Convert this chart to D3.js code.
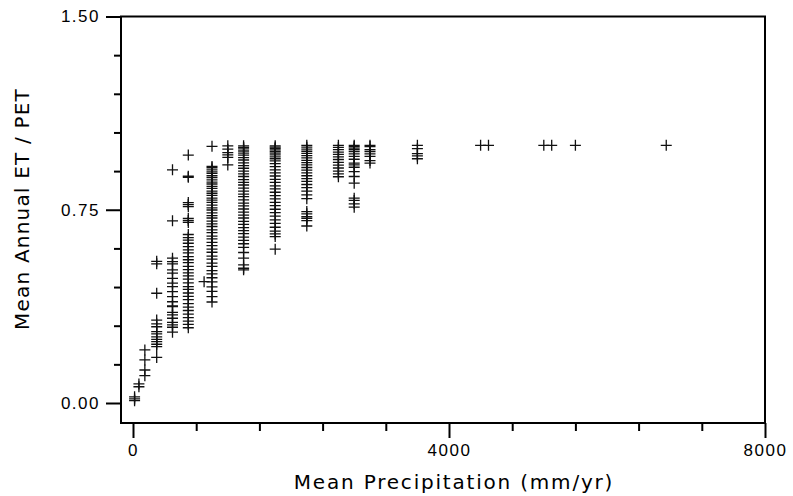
<!DOCTYPE html>
<html>
<head>
<meta charset="utf-8">
<script src="https://cdn.jsdelivr.net/npm/d3@7"></script>
<style>
  html, body { margin: 0; padding: 0; background: #fff; }
  svg { display: block; font-family: "DejaVu Sans", sans-serif; }
</style>
</head>
<body>
<div class="chart-area"></div>
<script>
// ET/PET vs mean precipitation - scatter of "+" marks

// ---- Data ----
// precipitation class (mm/yr) of each column of marks
const precipitation = [20, 75, 150, 300, 500, 700, 900, 1000, 1200, 1400, 1800,
                       2200, 2600, 2800, 3000, 3600, 4400, 4500, 5200, 5300, 5600, 6750];

// ET/PET values (same order as precipitation)
const etPetRatios = [
  [0.024, 0.016, 0.009],
  [0.074, 0.063],
  [0.206, 0.167, 0.128, 0.106],
  [0.550, 0.540, 0.426, 0.322, 0.307, 0.296, 0.277, 0.268, 0.257, 0.247, 0.238, 0.228, 0.219, 0.177],
  [0.905, 0.707, 0.562, 0.549, 0.540, 0.517, 0.504, 0.484, 0.465, 0.452, 0.432, 0.413, 0.393,
   0.377, 0.374, 0.352, 0.342, 0.329, 0.313, 0.303, 0.294, 0.275],
  [0.962, 0.880, 0.876, 0.778, 0.770, 0.762, 0.716, 0.708, 0.701, 0.654, 0.642, 0.632, 0.620,
   0.607, 0.594, 0.583, 0.568, 0.556, 0.545, 0.530, 0.518, 0.505, 0.493, 0.481, 0.466, 0.452,
   0.441, 0.427, 0.414, 0.401, 0.386, 0.372, 0.359, 0.345, 0.331, 0.318, 0.305, 0.292],
  [0.471],
  [0.996, 0.918, 0.913, 0.905, 0.897, 0.891, 0.882, 0.875, 0.866, 0.857, 0.850, 0.841, 0.833,
   0.822, 0.814, 0.806, 0.795, 0.787, 0.779, 0.768, 0.757, 0.749, 0.738, 0.727, 0.718, 0.706,
   0.695, 0.685, 0.672, 0.661, 0.648, 0.637, 0.623, 0.611, 0.597, 0.585, 0.570, 0.558, 0.543,
   0.530, 0.514, 0.501, 0.486, 0.470, 0.451, 0.433, 0.413, 0.392],
  [0.998, 0.985, 0.972, 0.963, 0.953, 0.924],
  [0.998, 0.992, 0.986, 0.978, 0.970, 0.962, 0.952, 0.943, 0.932, 0.921, 0.911, 0.900, 0.889,
   0.879, 0.867, 0.856, 0.846, 0.834, 0.822, 0.811, 0.801, 0.788, 0.776, 0.765, 0.753, 0.741,
   0.729, 0.718, 0.705, 0.693, 0.681, 0.669, 0.657, 0.644, 0.631, 0.618, 0.604, 0.584, 0.562,
   0.536, 0.523, 0.517],
  [0.998, 0.993, 0.988, 0.982, 0.976, 0.970, 0.963, 0.955, 0.948, 0.940, 0.929, 0.917, 0.905,
   0.893, 0.881, 0.868, 0.856, 0.843, 0.831, 0.818, 0.805, 0.792, 0.779, 0.766, 0.752, 0.739,
   0.725, 0.711, 0.697, 0.682, 0.667, 0.656, 0.646, 0.597],
  [1.000, 0.993, 0.985, 0.977, 0.969, 0.960, 0.951, 0.942, 0.933, 0.924, 0.914, 0.904, 0.893,
   0.882, 0.871, 0.860, 0.848, 0.836, 0.822, 0.808, 0.793, 0.743, 0.734, 0.723, 0.717, 0.708, 0.687],
  [1.000, 0.992, 0.983, 0.974, 0.965, 0.955, 0.945, 0.934, 0.923, 0.912, 0.900, 0.889, 0.878],
  [1.000, 0.995, 0.989, 0.983, 0.976, 0.967, 0.957, 0.946, 0.931, 0.924, 0.915, 0.898, 0.879,
   0.853, 0.795, 0.786, 0.773, 0.760],
  [1.000, 0.995, 0.983, 0.976, 0.967, 0.957, 0.941, 0.931],
  [1.000, 0.987, 0.968, 0.959, 0.948],
  [1.000],
  [1.000],
  [1.000],
  [1.000],
  [1.000],
  [1.000]
];

// tick values
const xMinorTicks = [800, 1600, 2400, 3200, 4800, 5600, 6400, 7200];
const xMajorTicks = [0, 4000, 8000];
const yMinorTicks = [0.15, 0.30, 0.45, 0.60, 0.90, 1.05, 1.20, 1.35];
const yMajorTicks = [0, 0.75, 1.50];

// ---- Sizes ----
const svgWidth = 793;
const svgHeight = 496;
const frame = { left: 121, right: 765, top: 16.5, bottom: 423 };

const svg = d3.select(".chart-area").append("svg")
    .attr("width", svgWidth)
    .attr("height", svgHeight);

// Scales (data origin is offset inside the frame)
const x = d3.scaleLinear().domain([0, 8000]).range([133, 765]);
const y = d3.scaleLinear().domain([0, 1.5]).range([403, 16.5]);

// Points
const points = precipitation.flatMap((p, i) => etPetRatios[i].map(v => ({ p: p, v: v })));

svg.append("g")
    .attr("class", "marks")
    .selectAll("path")
    .data(points)
    .join("path")
    .attr("transform", d => `translate(${x(d.p)},${y(d.v)})`)
    .attr("d", "M-5.5,0H5.5M0,-5.5V5.5")
    .attr("fill", "none")
    .attr("stroke", "#111")
    .attr("stroke-width", 1.3);

// Axes
function styleAxis(g) {
    g.select(".domain").remove();
    g.selectAll(".tick line").attr("stroke", "#000").attr("stroke-width", 2);
    g.selectAll(".tick text")
        .attr("fill", "#000")
        .style("font-size", "17px")
        .style("letter-spacing", "1.5px");
}

svg.append("g")
    .attr("transform", `translate(${frame.left},0)`)
    .call(d3.axisLeft(y).tickValues(yMinorTicks).tickSize(7).tickFormat(""))
    .call(styleAxis);

svg.append("g")
    .attr("transform", `translate(${frame.left},0)`)
    .call(d3.axisLeft(y).tickValues(yMajorTicks).tickSize(15).tickPadding(6)
        .tickFormat(d3.format(".2f")))
    .call(styleAxis);

svg.append("g")
    .attr("transform", `translate(0,${frame.bottom})`)
    .call(d3.axisBottom(x).tickValues(xMinorTicks).tickSize(8).tickFormat(""))
    .call(styleAxis);

svg.append("g")
    .attr("transform", `translate(0,${frame.bottom})`)
    .call(d3.axisBottom(x).tickValues(xMajorTicks).tickSize(15).tickPadding(6)
        .tickFormat(d3.format("d")))
    .call(styleAxis);

// Frame
svg.append("rect")
    .attr("x", frame.left)
    .attr("y", frame.top)
    .attr("width", frame.right - frame.left)
    .attr("height", frame.bottom - frame.top)
    .attr("fill", "none")
    .attr("stroke", "#000")
    .attr("stroke-width", 2);

// Axis titles
svg.append("text")
    .attr("x", 454)
    .attr("y", 489)
    .attr("text-anchor", "middle")
    .style("font-size", "20px")
    .style("letter-spacing", "1.8px")
    .text("Mean Precipitation (mm/yr)");

svg.append("text")
    .attr("transform", "translate(29,209) rotate(-90)")
    .attr("text-anchor", "middle")
    .style("font-size", "20px")
    .style("letter-spacing", "1.2px")
    .text("Mean Annual ET / PET");
</script>
</body>
</html>
